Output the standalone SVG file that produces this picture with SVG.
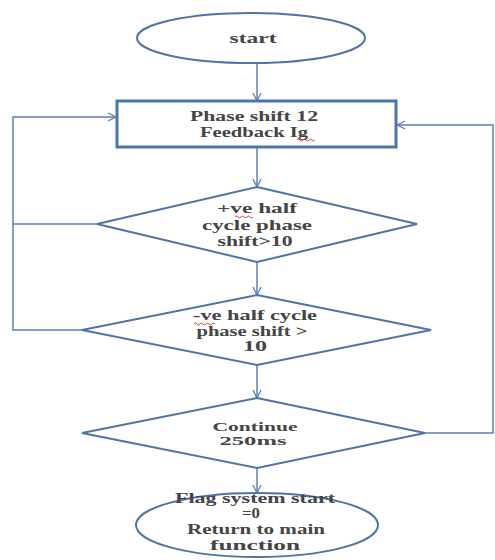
<svg xmlns="http://www.w3.org/2000/svg" width="495" height="560" viewBox="0 0 495 560">
<style>
.shape{fill:#fff;stroke:#4f74a8;stroke-width:2}
.box{fill:#fff;stroke:#4f74a8;stroke-width:3}
.line{fill:none;stroke:#5a80b8;stroke-width:1.5}
.t{font-family:"Liberation Serif","Times New Roman",serif;font-size:14px;font-weight:bold;fill:#454545;text-anchor:middle}
.s{font-size:12.5px}
.sq{fill:none;stroke:#d03030;stroke-width:0.9}
</style>
<defs>
<marker id="arr" markerWidth="10" markerHeight="10" refX="9" refY="5" orient="auto" markerUnits="userSpaceOnUse">
<path d="M1,1 L9,5 L1,9" fill="none" stroke="#5a80b8" stroke-width="1.3"/>
</marker>
</defs>
<rect width="495" height="560" fill="#fff"/>
<g id="connectors">
<line class="line" x1="257" y1="63" x2="257" y2="101" marker-end="url(#arr)"/>
<line class="line" x1="257" y1="148" x2="257" y2="187" marker-end="url(#arr)"/>
<line class="line" x1="257" y1="262" x2="257" y2="295" marker-end="url(#arr)"/>
<line class="line" x1="257" y1="365" x2="257" y2="398" marker-end="url(#arr)"/>
<line class="line" x1="257" y1="468" x2="257" y2="493" marker-end="url(#arr)"/>
<polyline class="line" points="97,224 13,224"/>
<polyline class="line" points="82,330 13,330 13,117 116,117" marker-end="url(#arr)"/>
<polyline class="line" points="425,433 493,433 493,125 397,125" marker-end="url(#arr)"/>
</g>
<g id="start">
<ellipse class="shape" cx="251" cy="38" rx="114" ry="25"/>
<text class="t" x="253" y="43" textLength="47" lengthAdjust="spacingAndGlyphs">start</text>
</g>
<g id="phase">
<rect class="box" x="117" y="101" width="279" height="46"/>
<text class="t" x="254" y="121" textLength="128" lengthAdjust="spacingAndGlyphs">Phase shift 12</text>
<text class="t" x="254" y="137" textLength="108" lengthAdjust="spacingAndGlyphs">Feedback Ig</text>
<path class="sq" d="M297,140 q1.5,-2 3,0 t3,0 t3,0 t3,0 t3,0 t3,0"/>
</g>
<g id="pos">
<polygon class="shape" points="257,187 417,224 257,262 97,224"/>
<text class="t" x="257" y="213" textLength="80" lengthAdjust="spacingAndGlyphs">+ve half</text>
<text class="t" x="257" y="230" textLength="110" lengthAdjust="spacingAndGlyphs">cycle phase</text>
<text class="t" x="255" y="246" textLength="75" lengthAdjust="spacingAndGlyphs">shift&gt;10</text>
<path class="sq" d="M235,217 q1.5,-2 3,0 t3,0 t3,0 t3,0 t3,0 t3,0"/>
</g>
<g id="neg">
<polygon class="shape" points="257,295 431,330 257,365 82,330"/>
<text class="t" x="255" y="320" textLength="124" lengthAdjust="spacingAndGlyphs">-ve half cycle</text>
<text class="t" x="252" y="336" textLength="111" lengthAdjust="spacingAndGlyphs">phase shift &gt;</text>
<text class="t" x="255" y="351" textLength="24" lengthAdjust="spacingAndGlyphs">10</text>
<path class="sq" d="M194,324 q1.5,-2 3,0 t3,0 t3,0 t3,0 t3,0 t3,0 t3,0"/>
</g>
<g id="cont">
<polygon class="shape" points="257,398 425,433 257,468 82,433"/>
<text class="t s" x="255" y="431" textLength="85" lengthAdjust="spacingAndGlyphs">Continue</text>
<text class="t s" x="253" y="445" textLength="67" lengthAdjust="spacingAndGlyphs">250ms</text>
</g>
<g id="end">
<ellipse class="shape" cx="257" cy="525" rx="121" ry="32"/>
<text class="t" x="255" y="503" textLength="160" lengthAdjust="spacingAndGlyphs">Flag system start</text>
<text class="t" x="251" y="518" textLength="18" lengthAdjust="spacingAndGlyphs">=0</text>
<text class="t" x="256" y="534" textLength="138" lengthAdjust="spacingAndGlyphs">Return to main</text>
<text class="t" x="255" y="550" textLength="90" lengthAdjust="spacingAndGlyphs">function</text>
</g>
</svg>
